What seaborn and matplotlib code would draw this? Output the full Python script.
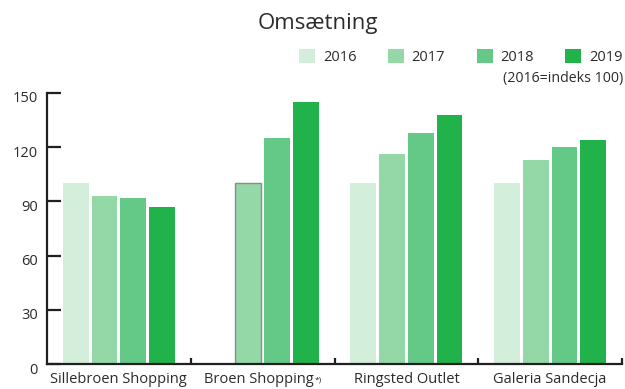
import matplotlib
matplotlib.use("Agg")
import matplotlib.pyplot as plt
import matplotlib.transforms as mtransforms
from matplotlib.patches import Patch
import numpy as np
import pandas as pd
import seaborn as sns

# ---- data ----
malls = ["Sillebroen Shopping", "Broen Shopping", "Ringsted Outlet", "Galeria Sandecja"]
years = ["2016", "2017", "2018", "2019"]
v2016 = [100, np.nan, 100, 100]
v2017 = [93, 100, 116, 113]
v2018 = [92, 125, 128, 120]
v2019 = [87, 145, 138, 124]
colors = ["#d4eedc", "#93d8a6", "#64c886", "#22b24c"]
yticks = [0, 30, 60, 90, 120, 150]
footnote_mark = "*)"

rows = []
for yr, vals in zip(years, [v2016, v2017, v2018, v2019]):
    for m, v in zip(malls, vals):
        rows.append({"mall": m, "year": yr, "value": v})
df = pd.DataFrame(rows)

sns.set_theme(style="white")
plt.rcParams["font.family"] = ["Open Sans", "DejaVu Sans"]
dark = "#231f20"
textc = "#2b2b2b"

fig = plt.figure(figsize=(6.25, 3.89), dpi=100)
W, H = 625, 389
ax = fig.add_axes([47 / W, 25 / H, 575 / W, (364 - 93) / H])

sns.barplot(data=df, x="mall", y="value", hue="year", order=malls, hue_order=years,
            palette=colors, saturation=1, width=0.8, gap=0.1, ax=ax, legend=False,
            linewidth=0, errorbar=None)

# gray outline on Broen 2017 bar
bar = ax.containers[1].patches[1]
bar.set_edgecolor("#8a8a8a")
bar.set_linewidth(1.0)

ax.set_xlim(-0.5, 3.5)
ax.set_ylim(0, 150)
ax.set_yticks(yticks)
ax.set_xlabel("")
ax.set_ylabel("")

for s in ["top", "right"]:
    ax.spines[s].set_visible(False)
for s in ["left", "bottom"]:
    ax.spines[s].set_color(dark)
    ax.spines[s].set_linewidth(1.6)

ax.tick_params(axis="y", direction="in", length=10, width=1.6, color=dark,
               labelsize=10.5, labelcolor=textc, pad=6.5, left=True)
ax.set_xticks(range(len(malls)))
ax.set_xticklabels(malls)
ax.tick_params(axis="x", which="major", length=0, labelsize=10.5, labelcolor=textc, pad=5.5)
ax.set_xticks([0.5, 1.5, 2.5, 3.5], minor=True)
ax.tick_params(axis="x", which="minor", direction="in", length=4.5, width=1.6,
               color=dark, bottom=True)

off = mtransforms.ScaledTranslation(0, -4 / 100, fig.dpi_scale_trans)
for lab in ax.get_yticklabels():
    lab.set_transform(lab.get_transform() + off)

# shift Broen label left to make room for footnote mark
broen_lab = ax.get_xticklabels()[1]
shift = mtransforms.ScaledTranslation(-4 / 100, 0, fig.dpi_scale_trans)
broen_lab.set_transform(broen_lab.get_transform() + shift)

# title
fig.text(318 / W, 1 - 24 / H, "Omsætning", ha="center", va="center",
         fontsize=16, color=textc)

# legend
handles = [Patch(facecolor=c, edgecolor="none") for c in colors]
leg = fig.legend(handles, years, ncol=4, loc="upper right",
                 bbox_to_anchor=(623 / W, 1 - 49 / H), frameon=False,
                 fontsize=10.5, handlelength=1.1, handleheight=1.1,
                 handletextpad=0.55, columnspacing=2.15, borderpad=0,
                 borderaxespad=0, labelcolor=textc)

fig.text(623 / W, 1 - 78.5 / H, "(2016=indeks 100)", ha="right", va="center",
         fontsize=10.2, color=textc)

fig.canvas.draw()
bb = broen_lab.get_window_extent(fig.canvas.get_renderer())
fig.text((bb.x1 + 1) / W, (bb.y1 - 8) / H, footnote_mark, ha="left", va="center",
         fontsize=6, color=textc)

fig.savefig("out.png", dpi=100)
